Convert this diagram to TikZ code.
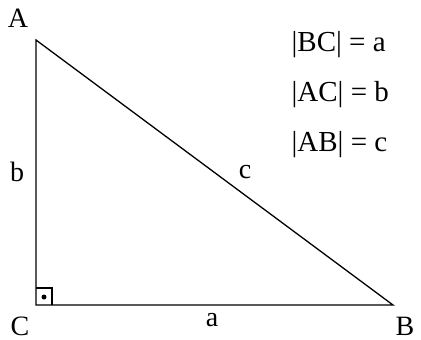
\documentclass[tikz,border=0pt]{standalone}
\usepackage{fontspec}
\setmainfont{Liberation Serif}

\begin{document}
\begin{tikzpicture}[x=1pt,y=-1pt,line width=1.3pt,
  lbl/.style={font=\fontsize{28}{32}\selectfont,inner sep=0pt}]
  \useasboundingbox (0,0) rectangle (421,340);
  \coordinate (A) at (36,40);
  \coordinate (B) at (393,305);
  \coordinate (C) at (36,305);
  \draw (A) -- (C) -- (B) -- cycle;
  \draw[line width=1.1pt] (36,288) -- (52,288) -- (52,305);
  \fill (44,297) circle (2.5pt);
  \node[lbl] (lA) at (18,18) {A};
  \node[lbl] (lB) at (405,326) {B};
  \node[lbl] (lC) at (20,326) {C};
  \node[lbl] (la) at (212,320) {a};
  \node[lbl] (lb) at (17,172) {b};
  \node[lbl] (lc) at (245,172) {c};
  \node[lbl,anchor=west,font=\fontsize{29}{32}\selectfont] (eq1) at (291,45) {|BC| = a};
  \node[lbl,anchor=west,font=\fontsize{29}{32}\selectfont] (eq2) at (291,95) {|AC| = b};
  \node[lbl,anchor=west,font=\fontsize{29}{32}\selectfont] (eq3) at (291,145) {|AB| = c};
\end{tikzpicture}
\end{document}
